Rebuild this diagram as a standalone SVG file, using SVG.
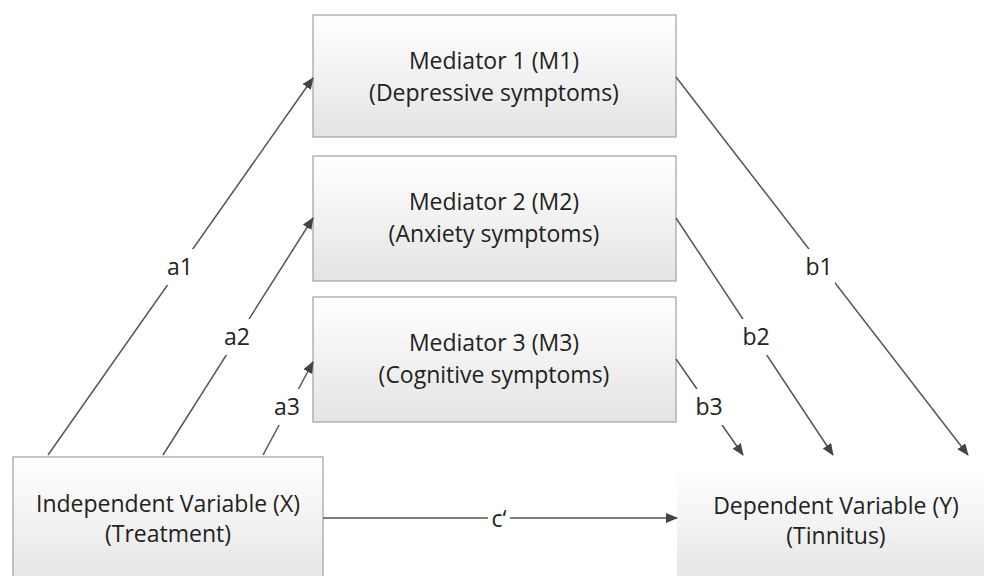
<svg xmlns="http://www.w3.org/2000/svg" width="984" height="576" viewBox="0 0 984 576">
<defs>
<linearGradient id="g" x1="0" y1="0" x2="0" y2="1">
<stop offset="0" stop-color="#ffffff"/>
<stop offset="1" stop-color="#e4e4e4"/>
</linearGradient>
<marker id="ah" markerWidth="12" markerHeight="10" refX="11" refY="5" orient="auto" markerUnits="userSpaceOnUse">
<path d="M0,0 L12,5 L0,10 Z" fill="#444"/>
</marker>
<style>
.box{fill:url(#g);stroke:#a0a0a0;stroke-width:1.2}
.t{font-family:"Open Sans","Liberation Sans",sans-serif;font-size:23px;fill:#222;text-anchor:middle}
.c{stroke:#555;stroke-width:1.5;fill:none;marker-end:url(#ah)}
.lb{fill:#fff}
</style>
</defs>
<rect width="984" height="576" fill="#fff"/>
<g id="m1">
<rect class="box" x="313" y="15" width="363" height="122"/>
<text class="t" x="494" y="69">Mediator 1 (M1)</text>
<text class="t" x="494" y="101">(Depressive symptoms)</text>
</g>
<g id="m2">
<rect class="box" x="313" y="156" width="363" height="125"/>
<text class="t" x="494" y="210">Mediator 2 (M2)</text>
<text class="t" x="494" y="242">(Anxiety symptoms)</text>
</g>
<g id="m3">
<rect class="box" x="313" y="297" width="363" height="125"/>
<text class="t" x="494" y="351">Mediator 3 (M3)</text>
<text class="t" x="494" y="383">(Cognitive symptoms)</text>
</g>
<g id="x">
<rect class="box" x="13" y="457" width="310" height="130"/>
<text class="t" x="168" y="512">Independent Variable (X)</text>
<text class="t" x="168" y="542">(Treatment)</text>
</g>
<g id="y">
<rect class="box" x="677" y="467" width="320" height="120" style="stroke:none"/>
<text class="t" x="836" y="514">Dependent Variable (Y)</text>
<text class="t" x="836" y="544">(Tinnitus)</text>
</g>
<g id="connectors">
<path class="c" d="M48,455 L313,78"/>
<path class="c" d="M163,455 L313,218"/>
<path class="c" d="M263,455 L313,362"/>
<path class="c" d="M676,77 L968,455"/>
<path class="c" d="M676,218 L833,455"/>
<path class="c" d="M676,359 L743,455"/>
<path class="c" d="M323,518 L677,518"/>
<rect class="lb" x="164" y="249" width="32" height="36"/>
<rect class="lb" x="221" y="319" width="32" height="36"/>
<rect class="lb" x="271" y="389" width="32" height="36"/>
<rect class="lb" x="803" y="249" width="32" height="36"/>
<rect class="lb" x="740" y="319" width="32" height="36"/>
<rect class="lb" x="693" y="389" width="32" height="36"/>
<rect class="lb" x="488" y="508" width="22" height="22"/>
<text class="t" x="180" y="275">a1</text>
<text class="t" x="237" y="345">a2</text>
<text class="t" x="287" y="415">a3</text>
<text class="t" x="819" y="275">b1</text>
<text class="t" x="756" y="345">b2</text>
<text class="t" x="709" y="415">b3</text>
<text class="t" x="499" y="527">c‘</text>
</g>
</svg>
